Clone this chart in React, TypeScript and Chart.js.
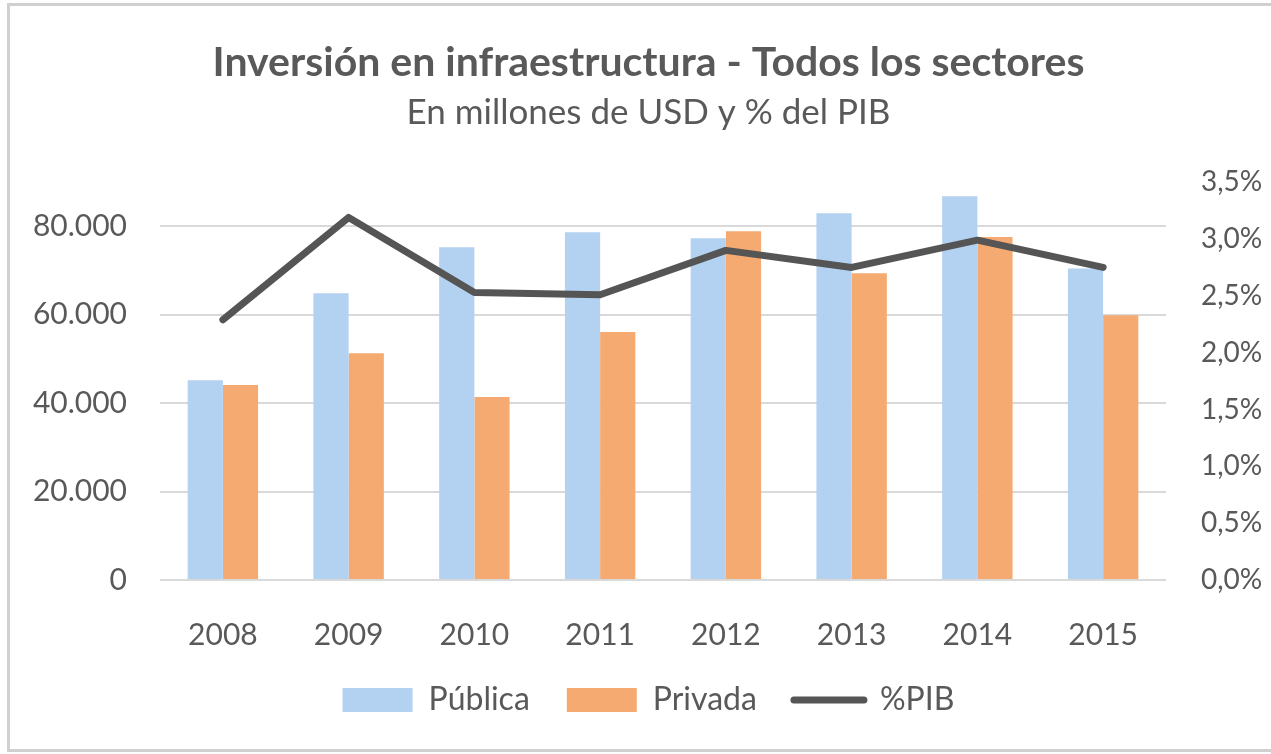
import React, { useEffect, useRef } from 'react';
import { Chart, registerables } from 'chart.js';

Chart.register(...registerables);

const years = ['2008', '2009', '2010', '2011', '2012', '2013', '2014', '2015'];
const publica = [45200, 64900, 75300, 78700, 77300, 83000, 86800, 70500];
const privada = [44100, 51300, 41400, 56100, 78900, 69400, 77600, 59900];
const pibPct = [2.29, 3.19, 2.53, 2.51, 2.9, 2.75, 2.99, 2.75];
const leftTicks = [0, 20000, 40000, 60000, 80000];
const rightTicks = [0, 0.5, 1, 1.5, 2, 2.5, 3, 3.5];

const FONT = 'Lato, "Noto Sans", sans-serif';
const TEXT = '#595959';
const BLUE = '#B3D1F0';
const ORANGE = '#F5AA72';
const LINE = '#555555';

const fmtThousands = (v: number) => String(Math.round(v)).replace(/\B(?=(\d{3})+(?!\d))/g, '.');
const fmtPct = (v: number) => v.toFixed(1).replace('.', ',') + '%';

const framePlugin = {
  id: 'frame',
  beforeDraw(chart: any) {
    const { ctx, width, height } = chart;
    ctx.save();
    ctx.fillStyle = '#ffffff';
    ctx.fillRect(0, 0, width, height);
    ctx.strokeStyle = '#d0d0d0';
    ctx.lineWidth = 3;
    ctx.strokeRect(8.5, 4.5, width + 10, height - 8);
    ctx.restore();
  },
};

export default function App() {
  const ref = useRef<HTMLCanvasElement>(null);

  useEffect(() => {
    if (!ref.current) return;
    const chart = new Chart(ref.current, {
      type: 'bar',
      data: {
        labels: years,
        datasets: [
          {
            type: 'bar',
            label: 'Pública',
            data: publica,
            backgroundColor: BLUE,
            borderWidth: 0,
            yAxisID: 'y',
            categoryPercentage: 0.56,
            barPercentage: 1.0,
            order: 1,
          },
          {
            type: 'bar',
            label: 'Privada',
            data: privada,
            backgroundColor: ORANGE,
            borderWidth: 0,
            yAxisID: 'y',
            categoryPercentage: 0.56,
            barPercentage: 1.0,
            order: 1,
          },
          {
            type: 'line',
            label: '%PIB',
            data: pibPct,
            borderColor: LINE,
            backgroundColor: LINE,
            borderWidth: 7,
            pointRadius: 0,
            tension: 0,
            borderJoinStyle: 'round',
            borderCapStyle: 'round',
            yAxisID: 'y1',
            order: 0,
          },
        ] as any,
      },
      options: {
        responsive: false,
        animation: false,
        devicePixelRatio: 1,
        layout: { padding: { left: 26, right: 0, top: 0, bottom: 28 } },
        plugins: {
          title: {
            display: true,
            text: 'Inversión en infraestructura - Todos los sectores',
            color: TEXT,
            font: { family: FONT, size: 41, weight: 'bold' },
            padding: { top: 38, bottom: 0 },
          },
          subtitle: {
            display: true,
            text: 'En millones de USD y % del PIB',
            color: TEXT,
            font: { family: FONT, size: 35, weight: 'normal' },
            padding: { top: 5, bottom: 48 },
          },
          legend: {
            position: 'bottom',
            labels: {
              usePointStyle: true,
              pointStyleWidth: 70,
              boxHeight: 24,
              padding: 37,
              color: TEXT,
              font: { family: FONT, size: 32 },
              generateLabels: (c: any) =>
                c.data.datasets.map((ds: any, i: number) => {
                  const isLine = ds.type === 'line';
                  return {
                    text: ds.label,
                    datasetIndex: i,
                    fillStyle: isLine ? LINE : ds.backgroundColor,
                    strokeStyle: isLine ? LINE : ds.backgroundColor,
                    lineWidth: isLine ? 7 : 0,
                    lineCap: 'round',
                    pointStyle: isLine ? 'line' : 'rect',
                    hidden: false,
                    fontColor: TEXT,
                  };
                }),
            },
          },
          tooltip: { enabled: false },
        },
        scales: {
          x: {
            grid: { display: false },
            border: { display: false },
            ticks: { padding: 29, color: TEXT, font: { family: FONT, size: 30 } },
            afterFit: (s: any) => {
              s.height = 67;
            },
          },
          y: {
            position: 'left',
            min: 0,
            max: 90000,
            grid: { color: '#d9d9d9', lineWidth: 2, drawTicks: false },
            border: { display: false },
            ticks: {
              padding: 33,
              color: TEXT,
              font: { family: FONT, size: 30 },
              callback: (v: any) => fmtThousands(Number(v)),
            },
            afterBuildTicks: (s: any) => {
              s.ticks = leftTicks.map((v) => ({ value: v }));
            },
            afterFit: (s: any) => {
              s.width = 134;
            },
          },
          y1: {
            position: 'right',
            min: 0,
            max: 3.5,
            grid: { display: false },
            border: { display: false },
            ticks: {
              padding: 27,
              color: TEXT,
              font: { family: FONT, size: 28 },
              callback: (v: any) => fmtPct(Number(v)),
            },
            afterBuildTicks: (s: any) => {
              s.ticks = rightTicks.map((v) => ({ value: v }));
            },
            afterFit: (s: any) => {
              s.width = 105;
            },
          },
        },
      } as any,
      plugins: [framePlugin],
    });
    return () => chart.destroy();
  }, []);

  return (
    <div style={{ position: 'absolute', left: 0, top: 0, width: 1271, height: 754 }}>
      <canvas ref={ref} width={1271} height={754} style={{ display: 'block', width: 1271, height: 754 }} />
    </div>
  );
}
